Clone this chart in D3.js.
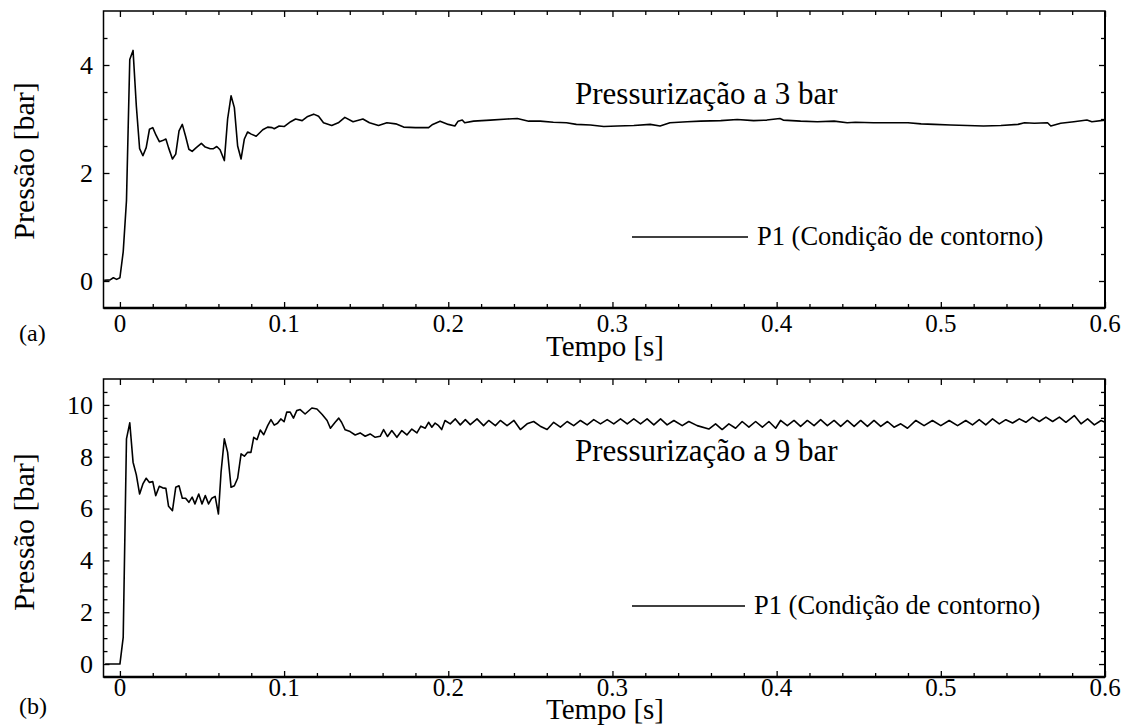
<!DOCTYPE html>
<html><head><meta charset="utf-8">
<script src="https://cdn.jsdelivr.net/npm/d3@7"></script>
<style>
body{margin:0;background:#fff}
text{font-family:"Liberation Serif","Times New Roman",serif;fill:#000}
</style>
</head><body><svg id="c" width="1131" height="726"></svg>
<script>
// ---- data ----
const timeA=[-0.0096,-0.006,-0.004,-0.002,0,0.002,0.004,0.006,0.008,0.010,
0.012,0.014,0.016,0.018,0.020,0.022,0.024,0.026,0.028,0.0296,
0.032,0.034,0.036,0.038,0.040,0.042,0.044,0.0465,0.0496,0.052,
0.055,0.057,0.059,0.061,0.0636,0.0656,0.0677,0.0697,0.0717,0.0738,
0.0758,0.0778,0.080,0.083,0.087,0.090,0.0927,0.094,0.097,0.100,
0.104,0.107,0.111,0.114,0.118,0.121,0.124,0.129,0.133,0.137,
0.142,0.148,0.152,0.1575,0.1626,0.168,0.1728,0.180,0.188,0.1905,
0.195,0.200,0.204,0.206,0.2085,0.210,0.2154,0.2256,0.236,0.242,
0.249,0.256,0.264,0.272,0.278,0.2866,0.2947,0.303,0.313,0.323,
0.329,0.335,0.3455,0.3537,0.366,0.376,0.386,0.394,0.402,0.404,
0.4146,0.4248,0.435,0.443,0.448,0.459,0.4695,0.48,0.488,0.496,
0.506,0.516,0.526,0.5366,0.547,0.551,0.557,0.565,0.567,0.573,
0.581,0.589,0.592,0.6];
const pressA=[0.015,0.02,0.06,0.03,0.06,0.54,1.49,4.10,4.27,3.24,
2.45,2.32,2.47,2.81,2.84,2.70,2.58,2.60,2.63,2.47,
2.26,2.35,2.78,2.90,2.68,2.44,2.40,2.47,2.55,2.48,
2.45,2.45,2.49,2.43,2.23,3.0,3.43,3.21,2.50,2.26,
2.63,2.76,2.72,2.68,2.80,2.85,2.84,2.82,2.87,2.86,
2.95,3.0,2.97,3.04,3.09,3.05,2.93,2.88,2.93,3.03,
2.95,3.0,2.93,2.88,2.93,2.91,2.85,2.84,2.84,2.90,
2.96,2.90,2.87,2.96,2.98,2.93,2.96,2.98,3.0,3.01,
2.96,2.96,2.94,2.93,2.90,2.89,2.86,2.87,2.88,2.90,
2.87,2.93,2.95,2.96,2.97,2.99,2.97,2.98,3.01,2.98,
2.96,2.95,2.96,2.93,2.94,2.93,2.93,2.93,2.91,2.90,
2.89,2.88,2.87,2.88,2.90,2.93,2.92,2.93,2.87,2.92,
2.95,2.98,2.95,2.98];

const timeB=[-0.009,0,0.002,0.004,0.006,0.008,0.010,0.012,0.014,0.016,
0.018,0.020,0.0218,0.024,0.026,0.028,0.0296,0.032,0.034,0.036,
0.038,0.040,0.042,0.044,0.0457,0.048,0.050,0.052,0.054,0.056,
0.058,0.060,0.0616,0.0636,0.0656,0.0677,0.0697,0.0717,0.0738,0.0758,
0.0778,0.0798,0.0815,0.0835,0.0855,0.0876,0.090,0.092,0.094,0.096,
0.098,0.100,0.1016,0.1037,0.1057,0.1077,0.1098,
0.1128,0.1169,0.12,0.1232,0.1262,0.1282,0.1311,0.1333,0.135,0.1372,
0.1402,0.1433,0.1463,0.1494,0.1524,0.1555,0.1585,0.1606,0.163,0.1656,
0.1687,0.1717,0.1748,0.1778,0.1809,0.1833,0.186,0.188,0.190,0.192,
0.1941,0.196,0.198,0.2012,0.2043,0.2073,0.2104,0.2134,0.2175,0.2215,
0.2246,0.2287,0.2317,0.2358,0.24,0.2439,0.248,0.252,0.256,0.2602,
0.2642,0.2683,0.2724,0.2764,0.2805,0.2846,0.2886,0.2927,0.2968,0.3008,
0.3049,0.309,0.313,0.3171,0.3211,0.3252,0.3293,0.3333,0.3374,0.3425,
0.3465,0.3516,
0.3587,0.3628,0.3668,0.3709,0.375,0.379,0.3831,0.3872,0.3913,0.3953,
0.3994,0.4024,0.4065,0.4106,0.4146,0.4187,0.4228,0.4268,0.4309,0.435,
0.439,0.4431,0.4472,0.4512,0.4553,0.4593,0.4634,0.4675,0.4715,0.4756,
0.4797,0.4848,0.4898,0.4949,0.5,0.5051,0.5102,0.5152,0.5193,0.5234,
0.5274,0.5315,0.5356,0.5396,0.5437,0.5478,0.5518,0.5559,0.56,0.564,
0.5681,0.5722,0.5762,0.5813,0.5854,0.5894,0.5935,0.5976,0.6];
const pressB=[0,0,1.03,8.69,9.31,7.79,7.30,6.56,6.95,7.17,
7.01,7.04,6.50,6.86,6.80,6.78,6.09,5.92,6.82,6.88,
6.40,6.40,6.24,6.44,6.18,6.56,6.18,6.50,6.18,6.40,
6.47,5.79,7.40,8.69,8.17,6.82,6.88,7.17,8.11,8.02,
8.17,8.17,8.75,8.66,9.03,8.85,9.20,9.43,9.22,9.29,
9.46,9.35,9.72,9.72,9.49,9.78,9.82,
9.65,9.88,9.84,9.63,9.40,9.10,9.33,9.49,9.33,9.04,
8.97,8.84,8.92,8.79,8.88,8.75,8.79,9.05,8.78,9.01,
8.75,9.01,8.84,9.07,8.92,9.18,9.10,9.33,9.14,9.30,
9.20,9.05,9.40,9.27,9.46,9.23,9.43,9.24,9.46,9.20,
9.40,9.20,9.40,9.20,9.40,9.05,9.27,9.36,9.18,9.05,
9.33,9.14,9.36,9.20,9.40,9.23,9.43,9.27,9.43,9.27,
9.46,9.27,9.46,9.27,9.46,9.23,9.46,9.23,9.40,9.20,
9.36,9.20,
9.07,9.27,9.05,9.27,9.10,9.36,9.14,9.36,9.14,9.36,
9.10,9.40,9.20,9.40,9.17,9.40,9.20,9.43,9.20,9.40,
9.17,9.40,9.17,9.40,9.17,9.40,9.17,9.36,9.14,9.27,
9.10,9.40,9.20,9.40,9.20,9.40,9.20,9.40,9.23,9.43,
9.23,9.46,9.27,9.43,9.30,9.46,9.33,9.53,9.36,9.53,
9.36,9.53,9.33,9.59,9.27,9.46,9.23,9.40,9.33];

const xTicks=[0,0.1,0.2,0.3,0.4,0.5,0.6];
const xTickLabels=["0","0.1","0.2","0.3","0.4","0.5","0.6"];
const yTicksA=[0,2,4];
const yTicksB=[0,2,4,6,8,10];
const titles=["Pressurização a 3 bar","Pressurização a 9 bar"];
const panelLabels=["(a)","(b)"];
const legendLabel="P1 (Condição de contorno)";
const xLabel="Tempo [s]";
const yLabel="Pressão [bar]";

// ---- layout ----
const svg=d3.select("#c");
const panels=[
 {t:timeA,p:pressA,yDom:[-0.5,5],yTicks:yTicksA,yMax:4.5,top:11,bottom:308,
  tickY:332,xLabY:356,panY:341,yLabC:161,titleY:104,legY:237,legX2:748,legTX:757},
 {t:timeB,p:pressB,yDom:[-0.5,11],yTicks:yTicksB,yMax:10.5,top:379,bottom:677,
  tickY:696,xLabY:719,panY:714,yLabC:532,titleY:461,legY:606,legX2:745,legTX:754}
];
const L=103.5,R=1105;

panels.forEach((P,i)=>{
  const x=d3.scaleLinear().domain([-0.01,0.6]).range([L,R]);
  const y=d3.scaleLinear().domain(P.yDom).range([P.bottom,P.top]);
  const g=svg.append("g");
  const xMinor=d3.range(1,31).map(k=>k*0.02).filter(v=>Math.abs(v*10-Math.round(v*10))>1e-6);
  const yMinor=d3.range(0,Math.round(P.yMax/0.5)+1).map(k=>k*0.5).filter(v=>!P.yTicks.includes(v));
  const styleAx=s=>{s.select(".domain").remove();s.selectAll("line").attr("stroke","#000").attr("stroke-width",1.3);};
  [[d3.axisBottom,P.bottom],[d3.axisTop,P.top]].forEach(([ax,pos])=>{
    g.append("g").attr("transform",`translate(0,${pos})`).call(ax(x).tickValues(xTicks).tickSize(-6).tickFormat("")).call(styleAx);
    g.append("g").attr("transform",`translate(0,${pos})`).call(ax(x).tickValues(xMinor).tickSize(-4).tickFormat("")).call(styleAx);
  });
  [[d3.axisLeft,L],[d3.axisRight,R]].forEach(([ax,pos])=>{
    g.append("g").attr("transform",`translate(${pos},0)`).call(ax(y).tickValues(P.yTicks).tickSize(-6).tickFormat("")).call(styleAx);
    g.append("g").attr("transform",`translate(${pos},0)`).call(ax(y).tickValues(yMinor).tickSize(-4).tickFormat("")).call(styleAx);
  });
  g.selectAll(".xl").data(xTicks).join("text").attr("x",d=>x(d)).attr("y",P.tickY)
    .attr("text-anchor","middle").attr("font-size",25).text((d,j)=>xTickLabels[j]);
  g.selectAll(".yl").data(P.yTicks).join("text").attr("x",93).attr("y",d=>y(d)).attr("dy","0.34em")
    .attr("text-anchor","end").attr("font-size",26).text(d=>d);
  g.append("rect").attr("x",L).attr("y",P.top).attr("width",R-L).attr("height",P.bottom-P.top)
    .attr("fill","none").attr("stroke","#000").attr("stroke-width",1.5);
  g.append("line").attr("x1",L).attr("x2",R).attr("y1",P.bottom).attr("y2",P.bottom).attr("stroke","#000").attr("stroke-width",2.5);
  g.append("line").attr("x1",R).attr("x2",R).attr("y1",P.top).attr("y2",P.bottom).attr("stroke","#000").attr("stroke-width",2);
  const clipId="clip"+i;
  svg.append("clipPath").attr("id",clipId).append("rect").attr("x",L).attr("y",P.top).attr("width",R-L).attr("height",P.bottom-P.top);
  const line=d3.line().x(d=>x(d[0])).y(d=>y(d[1]));
  g.append("path").datum(d3.zip(P.t,P.p)).attr("clip-path",`url(#${clipId})`)
    .attr("d",line).attr("fill","none").attr("stroke","#000").attr("stroke-width",1.6).attr("stroke-linejoin","round");
  g.append("text").attr("x",605).attr("y",P.xLabY).attr("text-anchor","middle").attr("font-size",29).text(xLabel);
  g.append("text").attr("transform",`translate(34,${P.yLabC}) rotate(-90)`).attr("text-anchor","middle").attr("font-size",30).text(yLabel);
  g.append("text").attr("x",19).attr("y",P.panY).attr("font-size",24).text(panelLabels[i]);
  g.append("text").attr("x",575).attr("y",P.titleY).attr("font-size",31).text(titles[i]);
  g.append("line").attr("x1",632).attr("x2",P.legX2).attr("y1",P.legY).attr("y2",P.legY).attr("stroke","#000").attr("stroke-width",1.3);
  g.append("text").attr("x",P.legTX).attr("y",P.legY+8).attr("font-size",26.5).text(legendLabel);
});
</script>
</body></html>
